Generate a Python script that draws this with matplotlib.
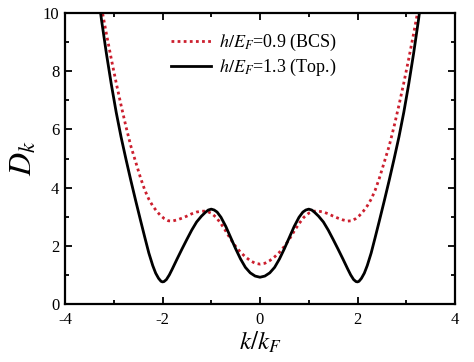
import matplotlib
matplotlib.use("Agg")
import matplotlib.pyplot as plt
from matplotlib.ticker import MultipleLocator

# ---- data ----
k_top = [-3.30, -3.25, -3.15, -3.05, -2.95, -2.85, -2.75, -2.65, -2.55, -2.45, -2.36, -2.28,
         -2.20, -2.14, -2.08, -2.03, -2.00, -1.97, -1.92, -1.86, -1.80, -1.70, -1.60, -1.50,
         -1.40, -1.30, -1.20, -1.12, -1.06, -1.00, -0.94, -0.88, -0.80, -0.70, -0.60, -0.50,
         -0.40, -0.30, -0.20, -0.10, 0.00,
         0.10, 0.20, 0.30, 0.40, 0.50, 0.60, 0.70, 0.80, 0.88, 0.94, 1.00, 1.06, 1.12,
         1.20, 1.30, 1.40, 1.50, 1.60, 1.70, 1.80, 1.86, 1.92, 1.97, 2.00, 2.03, 2.08,
         2.14, 2.20, 2.28, 2.36, 2.45, 2.55, 2.65, 2.75, 2.85, 2.95, 3.05, 3.15, 3.25, 3.30]
d_top = [10.37, 9.75, 8.60, 7.55, 6.59, 5.74, 4.98, 4.25, 3.55, 2.87, 2.27, 1.75,
         1.32, 1.06, 0.88, 0.78, 0.76, 0.77, 0.84, 1.00, 1.20, 1.55, 1.89, 2.22,
         2.54, 2.82, 3.02, 3.15, 3.23, 3.26, 3.23, 3.16, 2.98, 2.66, 2.28, 1.90,
         1.55, 1.26, 1.07, 0.96, 0.92,
         0.96, 1.07, 1.26, 1.55, 1.90, 2.28, 2.66, 2.98, 3.16, 3.23, 3.26, 3.23, 3.15,
         3.02, 2.82, 2.54, 2.22, 1.89, 1.55, 1.20, 1.00, 0.84, 0.77, 0.76, 0.78, 0.88,
         1.06, 1.32, 1.75, 2.27, 2.87, 3.55, 4.25, 4.98, 5.74, 6.59, 7.55, 8.60, 9.75, 10.37]

k_bcs = [-3.25, -3.15, -3.05, -2.95, -2.85, -2.75, -2.65, -2.55, -2.45, -2.36, -2.28, -2.20,
         -2.12, -2.04, -1.96, -1.88, -1.80, -1.70, -1.60, -1.50, -1.40, -1.30, -1.20, -1.10,
         -1.00, -0.90, -0.80, -0.70, -0.60, -0.50, -0.40, -0.30, -0.20, -0.10, 0.00,
         0.10, 0.20, 0.30, 0.40, 0.50, 0.60, 0.70, 0.80, 0.90, 1.00, 1.10, 1.20, 1.30,
         1.40, 1.50, 1.60, 1.70, 1.80, 1.88, 1.96, 2.04, 2.12, 2.20, 2.28, 2.36, 2.45,
         2.55, 2.65, 2.75, 2.85, 2.95, 3.05, 3.15, 3.25]
d_bcs = [10.18, 9.28, 8.42, 7.60, 6.83, 6.10, 5.43, 4.88, 4.33, 3.90, 3.60, 3.37,
         3.19, 3.04, 2.93, 2.86, 2.85, 2.89, 2.95, 3.02, 3.10, 3.16, 3.19, 3.19,
         3.12, 2.98, 2.76, 2.50, 2.22, 1.98, 1.78, 1.62, 1.49, 1.40, 1.37,
         1.40, 1.49, 1.62, 1.78, 1.98, 2.22, 2.50, 2.76, 2.98, 3.12, 3.19, 3.19, 3.16,
         3.10, 3.02, 2.95, 2.89, 2.85, 2.86, 2.93, 3.04, 3.19, 3.37, 3.60, 3.90, 4.33,
         4.88, 5.43, 6.10, 6.83, 7.60, 8.42, 9.28, 10.18]

label_bcs = r"$h/E_F$=0.9 (BCS)"
label_top = r"$h/E_F$=1.3 (Top.)"
x_ticks = [-4, -2, 0, 2, 4]
y_ticks = [0, 2, 4, 6, 8, 10]

plt.rcParams["font.family"] = ["Liberation Serif", "DejaVu Serif"]
plt.rcParams["mathtext.fontset"] = "stix"
plt.rcParams["axes.unicode_minus"] = False

fig = plt.figure(figsize=(4.74, 3.62), dpi=100)
ax = fig.add_axes([65 / 474, 58 / 362, 390 / 474, 291 / 362])

ax.plot(k_bcs, d_bcs, linestyle=(0, (1, 1.2)), color="#cc1f2e", lw=2.0, label=label_bcs)
ax.plot(k_top, d_top, color="black", lw=2.0, label=label_top)

ax.set_xlim(-4, 4)
ax.set_ylim(0, 10)
ax.set_xticks(x_ticks)
ax.set_yticks(y_ticks)
ax.xaxis.set_minor_locator(MultipleLocator(1))
ax.yaxis.set_minor_locator(MultipleLocator(1))
ax.tick_params(which="both", direction="in", top=True, right=True, labelsize=12, width=1.3)
ax.tick_params(which="major", length=5)
ax.tick_params(which="minor", length=3)
ax.tick_params(axis="x", which="major", pad=6)
ax.tick_params(axis="y", which="major", pad=4)
for s in ax.spines.values():
    s.set_linewidth(1.6)

ax.set_xlabel(r"$k/k_F$", fontsize=18, labelpad=1)
ax.set_ylabel(r"$D_k$", fontsize=23, labelpad=3)

leg = fig.legend(loc="upper left", bbox_to_anchor=(171 / 474, 1 - 32 / 362), frameon=False,
                 fontsize=13, handlelength=2.2, handletextpad=0.45, labelspacing=0.22,
                 borderpad=0, borderaxespad=0)

fig.savefig("out.png", dpi=100)
